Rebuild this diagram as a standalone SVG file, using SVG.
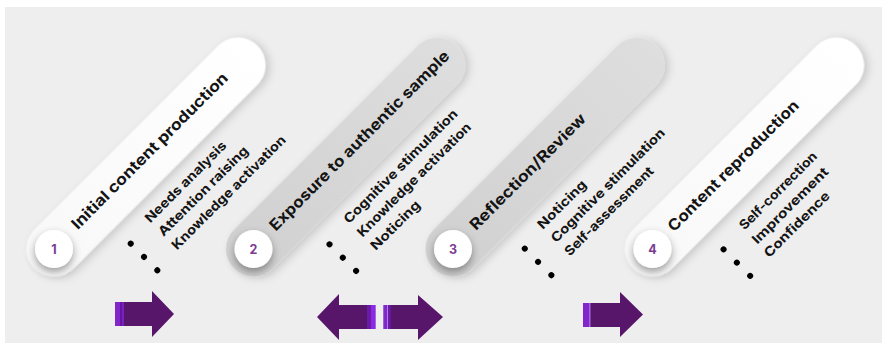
<svg xmlns="http://www.w3.org/2000/svg" width="882" height="351" viewBox="0 0 882 351">
  <defs>
    <style>
      .title { font-family: "Inter", "Liberation Sans", sans-serif; font-weight: 700; font-size: 15.5px; fill: #141414; }
      .item { font-family: "Inter", "Liberation Sans", sans-serif; font-weight: 700; font-size: 13px; fill: #141414; }
      .num { font-family: "Inter", "Liberation Sans", sans-serif; font-weight: 700; font-size: 12.5px; fill: #7a3b93; text-anchor: middle; }
      .dot { fill: #000; }
      .badge { fill: #ffffff; filter: url(#badgeShadow); }
      .arrow { fill: #58166b; }
    </style>
    <linearGradient id="pillWhite" x1="0" y1="0" x2="1" y2="0">
      <stop offset="0" stop-color="#f8f8f8"/>
      <stop offset="1" stop-color="#ffffff"/>
    </linearGradient>
    <linearGradient id="pillGrey" x1="0" y1="0" x2="1" y2="0">
      <stop offset="0" stop-color="#d0d0d0"/>
      <stop offset="1" stop-color="#dedede"/>
    </linearGradient>
    <filter id="pillShadow" x="-20%" y="-60%" width="140%" height="220%">
      <feDropShadow dx="2" dy="4" stdDeviation="4" flood-color="#000" flood-opacity="0.16"/>
    </filter>
    <filter id="badgeShadow" x="-60%" y="-60%" width="220%" height="220%">
      <feDropShadow dx="0" dy="4" stdDeviation="4" flood-color="#000" flood-opacity="0.38"/>
    </filter>
  </defs>

  <!-- frame and backdrop -->
  <rect x="0" y="0" width="882" height="351" fill="#ffffff"/>
  <rect x="5" y="7" width="877" height="336" fill="#eeeeee"/>

  <!-- stage 1 -->
  <g id="stage1">
    <g transform="translate(54,249) rotate(-45)">
      <rect x="-27.5" y="-27.5" width="315" height="55" rx="27.5" fill="url(#pillWhite)" filter="url(#pillShadow)"/>
      <text class="title" x="30" y="3.5" textLength="214" lengthAdjust="spacingAndGlyphs">Initial content production</text>
      <circle class="dot" cx="58" cy="50.5" r="3"/>
      <circle class="dot" cx="58" cy="69.3" r="3"/>
      <circle class="dot" cx="58" cy="88.1" r="3"/>
      <text class="item" x="86" y="50" textLength="109" lengthAdjust="spacingAndGlyphs">Needs analysis</text>
      <text class="item" x="86" y="69" textLength="121" lengthAdjust="spacingAndGlyphs">Attention raising</text>
      <text class="item" x="86" y="88" textLength="155" lengthAdjust="spacingAndGlyphs">Knowledge activation</text>
    </g>
    <circle class="badge" cx="54" cy="249" r="19"/>
    <text class="num" x="54" y="253.5">1</text>
  </g>

  <!-- stage 2 -->
  <g id="stage2">
    <g transform="translate(253.5,249) rotate(-45)">
      <rect x="-27.5" y="-27.5" width="315" height="55" rx="27.5" fill="url(#pillGrey)" filter="url(#pillShadow)"/>
      <text class="title" x="28" y="3.5" textLength="247" lengthAdjust="spacingAndGlyphs">Exposure to authentic sample</text>
      <circle class="dot" cx="57" cy="50.5" r="3"/>
      <circle class="dot" cx="57" cy="69.3" r="3"/>
      <circle class="dot" cx="57" cy="88.1" r="3"/>
      <text class="item" x="85" y="50" textLength="155" lengthAdjust="spacingAndGlyphs">Cognitive stimulation</text>
      <text class="item" x="85" y="69" textLength="155" lengthAdjust="spacingAndGlyphs">Knowledge activation</text>
      <text class="item" x="85" y="88" textLength="64" lengthAdjust="spacingAndGlyphs">Noticing</text>
    </g>
    <circle class="badge" cx="253.5" cy="249" r="19"/>
    <text class="num" x="253.5" y="253.5">2</text>
  </g>

  <!-- stage 3 -->
  <g id="stage3">
    <g transform="translate(453,249) rotate(-45)">
      <rect x="-27.5" y="-27.5" width="315" height="55" rx="27.5" fill="url(#pillGrey)" filter="url(#pillShadow)"/>
      <text class="title" x="29" y="3.5" textLength="157" lengthAdjust="spacingAndGlyphs">Reflection/Review</text>
      <circle class="dot" cx="51" cy="50.5" r="3"/>
      <circle class="dot" cx="51" cy="69.3" r="3"/>
      <circle class="dot" cx="51" cy="88.1" r="3"/>
      <text class="item" x="77" y="50" textLength="63" lengthAdjust="spacingAndGlyphs">Noticing</text>
      <text class="item" x="77" y="69" textLength="155" lengthAdjust="spacingAndGlyphs">Cognitive stimulation</text>
      <text class="item" x="77" y="88" textLength="120" lengthAdjust="spacingAndGlyphs">Self-assessment</text>
    </g>
    <circle class="badge" cx="453" cy="249" r="19"/>
    <text class="num" x="453" y="253.5">3</text>
  </g>

  <!-- stage 4 -->
  <g id="stage4">
    <g transform="translate(652.5,249) rotate(-45)">
      <rect x="-27.5" y="-27.5" width="315" height="55" rx="27.5" fill="url(#pillWhite)" filter="url(#pillShadow)"/>
      <text class="title" x="27" y="3.5" textLength="178" lengthAdjust="spacingAndGlyphs">Content reproduction</text>
      <circle class="dot" cx="50" cy="50.5" r="3"/>
      <circle class="dot" cx="50" cy="69.3" r="3"/>
      <circle class="dot" cx="50" cy="88.1" r="3"/>
      <text class="item" x="78" y="52" textLength="104" lengthAdjust="spacingAndGlyphs">Self-correction</text>
      <text class="item" x="77" y="71" textLength="102" lengthAdjust="spacingAndGlyphs">Improvement</text>
      <text class="item" x="76" y="89" textLength="87" lengthAdjust="spacingAndGlyphs">Confidence</text>
    </g>
    <circle class="badge" cx="652.5" cy="249" r="19"/>
    <text class="num" x="652.5" y="253.5">4</text>
  </g>

  <!-- flow arrows -->
  <g id="connectors">
    <!-- stage 1 forward -->
    <path class="arrow" d="M115,302 H152 V291 L174,314 L152,337 V326 H115 Z"/>
    <rect x="115" y="302" width="5" height="24" fill="#8226cc"/>
    <rect x="120" y="302" width="2" height="24" fill="#65169a"/>
    <rect x="122" y="302" width="2" height="24" fill="#7a20c2"/>

    <!-- stage 2 back and forth -->
    <path class="arrow" d="M376,305 H339 V294 L317,317 L339,340 V329 H376 Z"/>
    <rect x="367" y="305" width="4" height="24" fill="#6a1aa8"/>
    <rect x="371" y="305" width="4" height="24" fill="#8a2be2"/>
    <rect x="375" y="305" width="1" height="24" fill="#a36be0"/>

    <path class="arrow" d="M383,305 H418 V295 L443,317 L418,340 V329 H383 Z"/>
    <rect x="383" y="305" width="1.5" height="24" fill="#a060e0"/>
    <rect x="384.5" y="305" width="2.5" height="24" fill="#8226cc"/>
    <rect x="387" y="305" width="1.2" height="24" fill="#b07ce6"/>
    <rect x="388.2" y="305" width="2.5" height="24" fill="#6a1aa8"/>

    <!-- stage 3 forward -->
    <path class="arrow" d="M583,303 H620 V292 L643,314.5 L620,337 V327 H583 Z"/>
    <rect x="583" y="303" width="6" height="24" fill="#8226cc"/>
    <rect x="589" y="303" width="1.5" height="24" fill="#a566dd"/>
  </g>
</svg>
